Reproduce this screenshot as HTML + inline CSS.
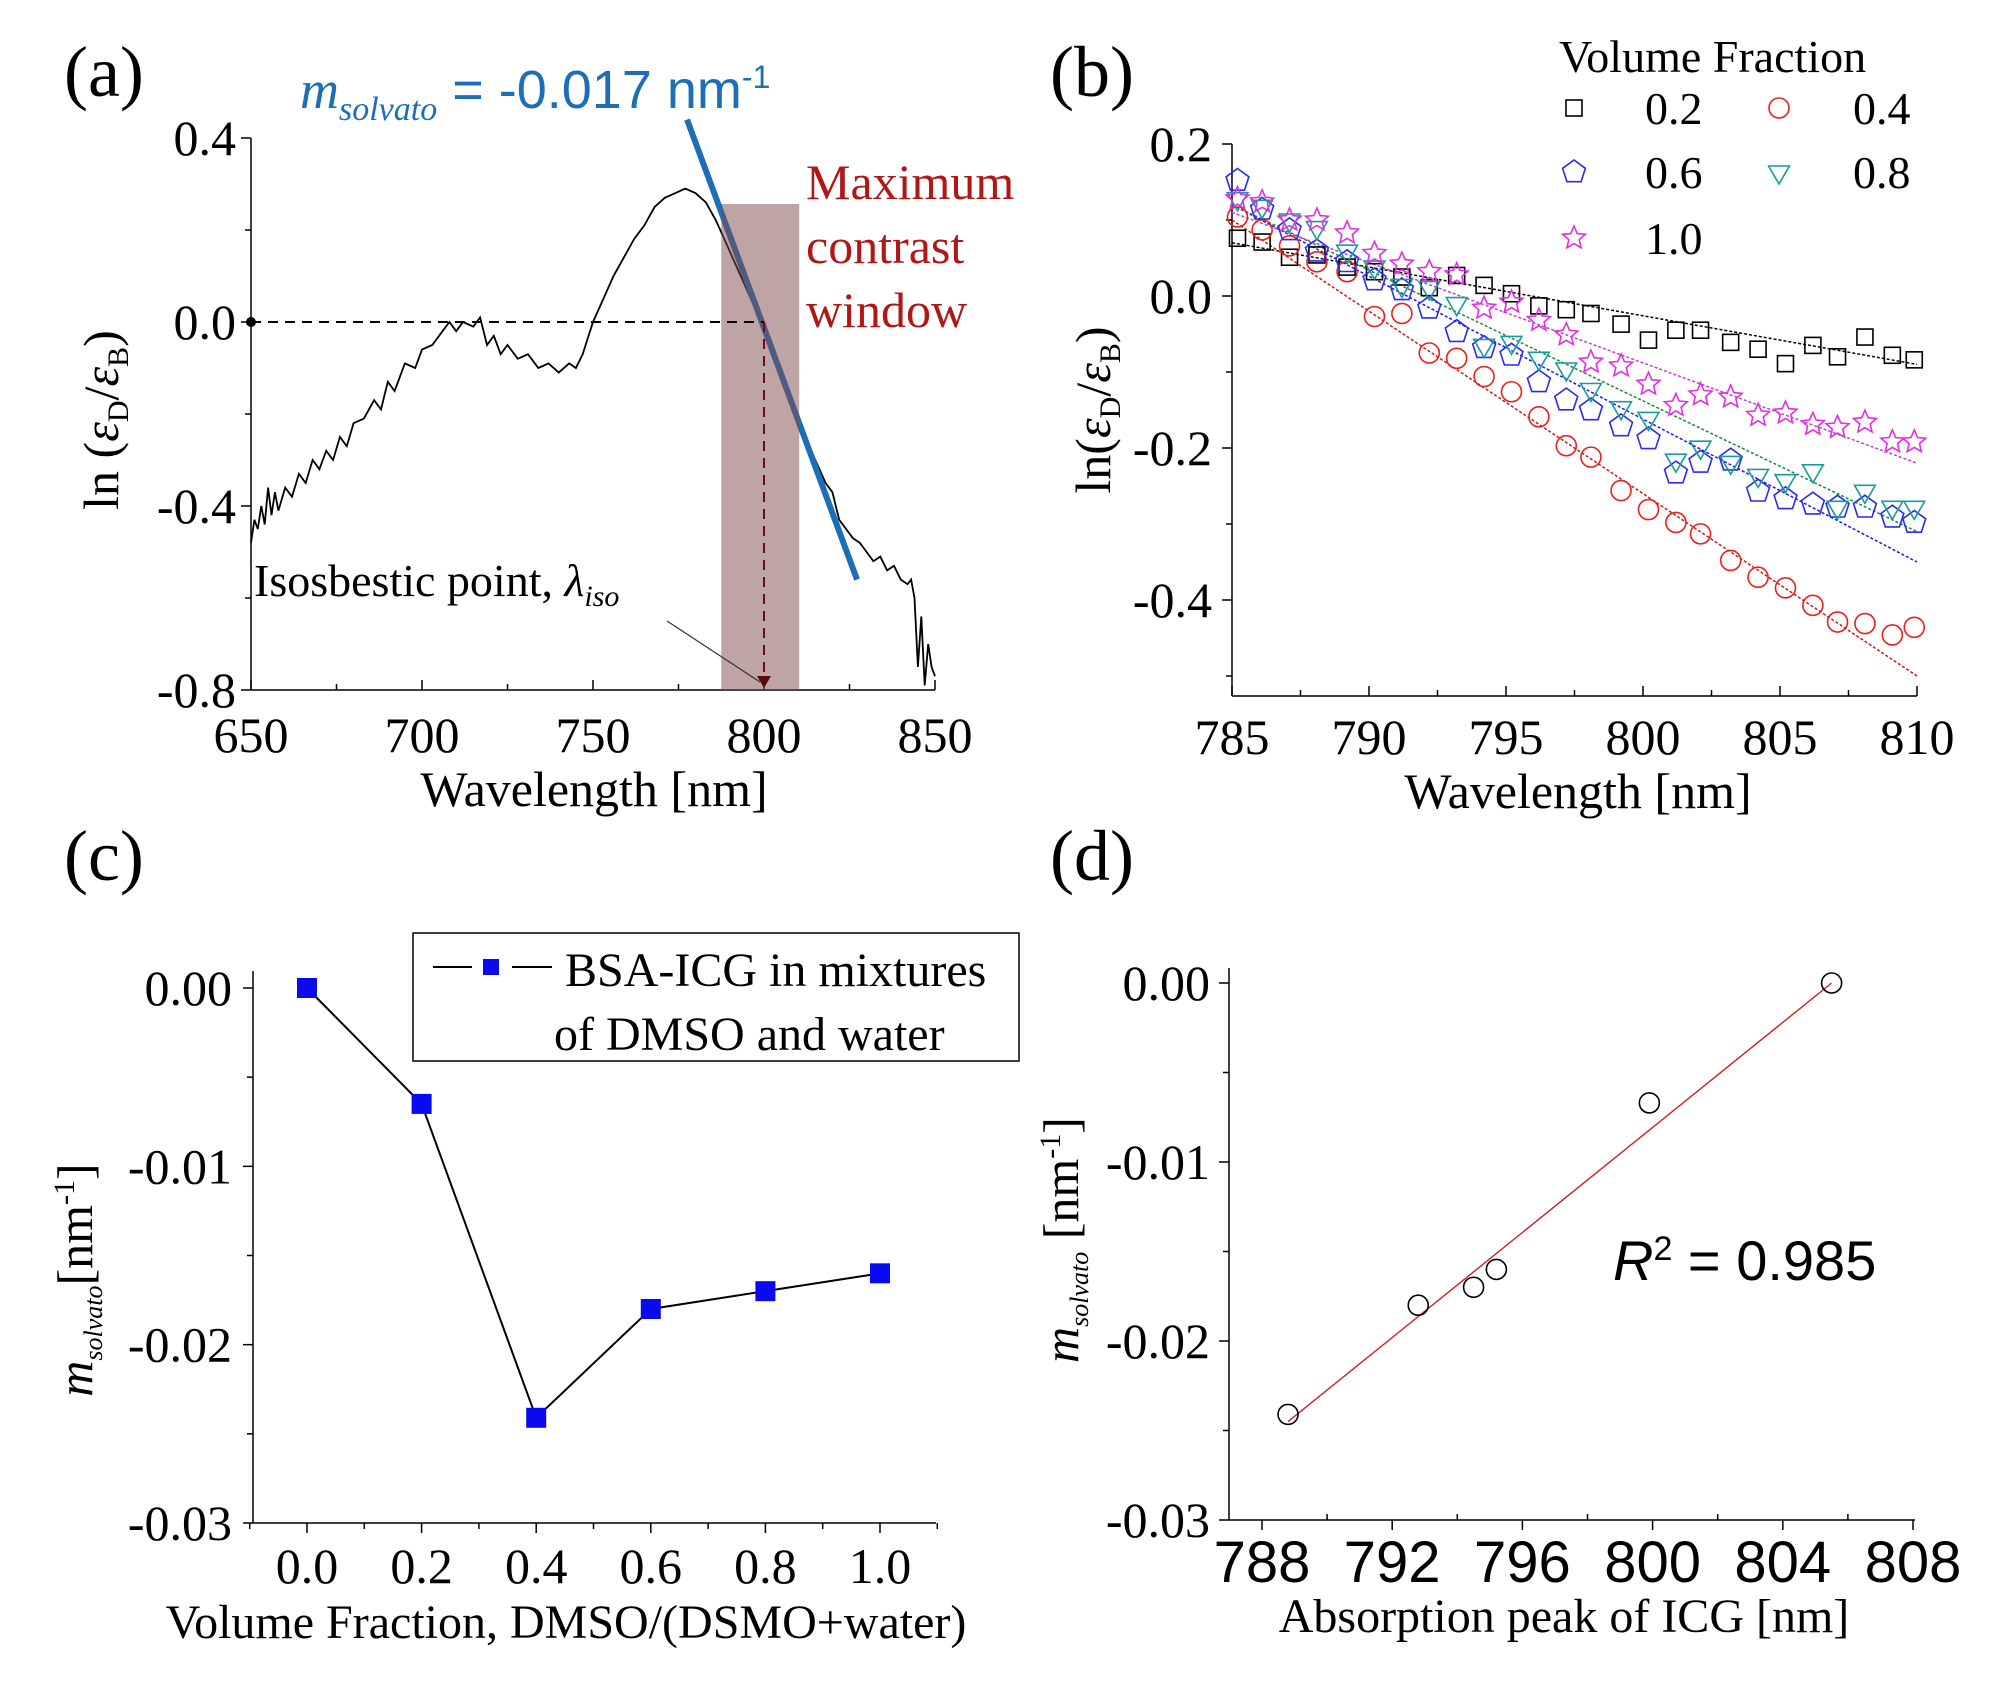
<!DOCTYPE html>
<html><head><meta charset="utf-8"><style>
html,body{margin:0;padding:0;background:#fff;}
svg{display:block;font-family:"Liberation Serif",serif;}
</style></head><body>
<svg id="fig" width="1996" height="1682" viewBox="0 0 1996 1682" xmlns="http://www.w3.org/2000/svg">
<rect width="1996" height="1682" fill="#fff"/>
<text x="64" y="96" font-size="72">(a)</text>
<text x="1050" y="96" font-size="72">(b)</text>
<text x="64" y="880" font-size="72">(c)</text>
<text x="1050" y="880" font-size="72">(d)</text>
<g id="pa"></g>
<g id="pb"></g>
<g id="pc"></g>
<g id="pd"></g>
</svg>
<script>
// ---- Panel (a) data ----
const aWave = [650,651,652,653,654,655,656,657,658,660,662,664,666,668,670,672,674,676,678,680,683,686,688,690,692,695,698,700,703,706,708,710,712,715,717,719,721,723,725,728,731,734,737,740,743,745,747,750,753,756,759,762,765,768,771,774,777,780,783,786,789,792,795,798,800,803,806,809,812,815,818,820,822,824,826,828,830,832,834,836,838,840,842,843,844,845,846,847,848,849,850];
const aLnRatio = [-0.48,-0.43,-0.45,-0.40,-0.44,-0.36,-0.42,-0.37,-0.41,-0.36,-0.38,-0.33,-0.35,-0.30,-0.32,-0.28,-0.30,-0.25,-0.27,-0.22,-0.21,-0.17,-0.19,-0.13,-0.15,-0.09,-0.10,-0.06,-0.05,-0.02,0.0,-0.02,0.0,-0.01,0.01,-0.05,-0.03,-0.07,-0.05,-0.08,-0.07,-0.10,-0.09,-0.11,-0.09,-0.10,-0.07,0.0,0.05,0.10,0.14,0.18,0.21,0.25,0.27,0.28,0.29,0.28,0.26,0.22,0.17,0.12,0.07,0.02,0.0,-0.06,-0.13,-0.19,-0.25,-0.30,-0.35,-0.37,-0.43,-0.45,-0.47,-0.48,-0.50,-0.52,-0.51,-0.54,-0.53,-0.56,-0.57,-0.56,-0.60,-0.75,-0.64,-0.79,-0.70,-0.75,-0.77];
const aXTicks = [650,700,750,800,850];
const aYTicks = [0.4,0.0,-0.4,-0.8];
const aTangent = [[777.5,0.44],[827.2,-0.56]];
const aWindow = [787.5,810.3];
const aIso = 800;

// ---- Panel (b) data ----
const bWave = [785.2,786.1,787.1,788.1,789.2,790.2,791.2,792.2,793.2,794.2,795.2,796.2,797.2,798.1,799.2,800.2,801.2,802.1,803.2,804.2,805.2,806.2,807.1,808.1,809.1,809.9];
const bF02 = [0.076,0.071,0.051,0.054,0.038,0.032,0.025,0.011,0.027,0.014,0.003,-0.013,-0.018,-0.023,-0.037,-0.058,-0.045,-0.045,-0.061,-0.070,-0.089,-0.065,-0.080,-0.054,-0.078,-0.084];
const bF04 = [0.104,0.087,0.066,0.045,0.032,-0.027,-0.023,-0.075,-0.082,-0.106,-0.126,-0.159,-0.197,-0.212,-0.256,-0.281,-0.298,-0.313,-0.348,-0.370,-0.384,-0.407,-0.429,-0.431,-0.446,-0.436];
const bF06 = [0.152,0.114,0.087,0.059,0.045,0.021,0.008,-0.016,-0.047,-0.068,-0.078,-0.113,-0.137,-0.150,-0.171,-0.188,-0.233,-0.219,-0.216,-0.257,-0.267,-0.274,-0.278,-0.278,-0.291,-0.298];
const bF08 = [0.128,0.118,0.100,0.090,0.059,0.038,0.014,0.011,-0.010,-0.065,-0.061,-0.082,-0.096,-0.123,-0.147,-0.161,-0.216,-0.199,-0.219,-0.236,-0.243,-0.230,-0.278,-0.257,-0.278,-0.278];
const bF10 = [0.128,0.124,0.100,0.100,0.083,0.056,0.042,0.032,0.028,-0.016,-0.008,-0.032,-0.051,-0.087,-0.092,-0.116,-0.144,-0.130,-0.133,-0.157,-0.154,-0.169,-0.173,-0.166,-0.192,-0.192];
const bFitStart = [0.07,0.10,0.12,0.12,0.11];
const bFitEnd = [-0.09,-0.50,-0.35,-0.31,-0.22];
const bXTicks = [785,790,795,800,805,810];
const bYTicks = [0.2,0.0,-0.2,-0.4];

// ---- Panel (c) data ----
const cFraction = [0.0,0.2,0.4,0.6,0.8,1.0];
const cSlope = [0.0,-0.0065,-0.0241,-0.0180,-0.0170,-0.0160];
const cXTicks = ["0.0","0.2","0.4","0.6","0.8","1.0"];
const cYTicks = ["0.00","-0.01","-0.02","-0.03"];

// ---- Panel (d) data ----
const dPeak = [788.8,792.8,794.5,795.2,799.9,805.5];
const dSlope = [-0.0241,-0.0180,-0.0170,-0.0160,-0.0067,0.0];
const dFit = [[788.8,-0.0245],[805.5,0.0]];
const dXTicks = [788,792,796,800,804,808];
const dYTicks = ["0.00","-0.01","-0.02","-0.03"];

const NS = "http://www.w3.org/2000/svg";
function mk(parent, tag, attrs, text){
  const e = document.createElementNS(NS, tag);
  for (const k in attrs) e.setAttribute(k, attrs[k]);
  if (text !== undefined) e.textContent = text;
  parent.appendChild(e);
  return e;
}
function lin(d0,d1,p0,p1){ return v => p0 + (v-d0)*(p1-p0)/(d1-d0); }

// ================= Panel A =================
(function(){
  const g = document.getElementById('pa');
  const X = lin(650,850,251,935), Y = lin(0.4,-0.8,138,690);
  let e;
  e = mk(g,'line',{x1:251,y1:138,x2:251,y2:690,stroke:'#000','stroke-width':1.5});
   
  e = mk(g,'line',{x1:251,y1:690,x2:935,y2:690,stroke:'#000','stroke-width':1.5});
   
  for (let v=650; v<=850; v+=25){
    e = mk(g,'line',{x1:X(v),y1:690,x2:X(v),y2:(v%50===0)?680:684,stroke:'#000','stroke-width':1.5});
     
  }
  aXTicks.forEach(v=>{
    e = mk(g,'text',{x:X(v),y:752,'font-size':50,'text-anchor':'middle'},String(v));
     
  });
  for (let v=0.4; v>=-0.81; v-=0.2){
    e = mk(g,'line',{x1:251,y1:Y(v),x2:Math.abs(Math.round(v*10))%4===0?241:245,y2:Y(v),stroke:'#000','stroke-width':1.5});
     
  }
  aYTicks.forEach(v=>{
    e = mk(g,'text',{x:236,y:Y(v)+17,'font-size':50,'text-anchor':'end'},v.toFixed(1));
     
  });
  e = mk(g,'text',{x:594,y:806,'font-size':50,'text-anchor':'middle'},'Wavelength [nm]');
   
  e = mk(g,'text',{transform:'translate(118,420) rotate(-90)','font-size':50,'text-anchor':'middle'});
  e.innerHTML = 'ln (<tspan font-style="italic">ε</tspan><tspan font-size="30" dy="10">D</tspan><tspan dy="-10">/</tspan><tspan font-style="italic">ε</tspan><tspan font-size="30" dy="10">B</tspan><tspan dy="-10">)</tspan>';
   
  // curve
  const pts = aWave.map((w,i)=>X(w).toFixed(1)+','+Y(aLnRatio[i]).toFixed(1)).join(' ');
  e = mk(g,'polyline',{points:pts,fill:'none',stroke:'#000','stroke-width':1.8});
   
  // tangent
  e = mk(g,'line',{x1:X(aTangent[0][0]),y1:Y(aTangent[0][1]),x2:X(aTangent[1][0]),y2:Y(aTangent[1][1]),stroke:'#1c6fb6','stroke-width':6});
   
  // window overlay
  e = mk(g,'rect',{x:X(aWindow[0]),y:204,width:X(aWindow[1])-X(aWindow[0]),height:Y(-0.8)-204,fill:'#7e4a4a','fill-opacity':0.5});
   
  // dashed guides
  e = mk(g,'line',{x1:251,y1:Y(0),x2:X(aIso),y2:Y(0),stroke:'#000','stroke-width':2,'stroke-dasharray':'10,7'});
   
  e = mk(g,'line',{x1:X(aIso),y1:Y(0),x2:X(aIso),y2:Y(-0.8)-8,stroke:'#6b0f0f','stroke-width':2,'stroke-dasharray':'10,7'});
   
  e = mk(g,'circle',{cx:251,cy:Y(0),r:5,fill:'#000'});
   
  e = mk(g,'polygon',{points:`${X(aIso)-7},${Y(-0.8)-14} ${X(aIso)+7},${Y(-0.8)-14} ${X(aIso)},${Y(-0.8)-2}`,fill:'#5a0a0a'});
   
  // annotations
  e = mk(g,'text',{x:300,y:108,'font-size':54,fill:'#1c6fb6','font-family':'Liberation Sans, sans-serif'});
  e.innerHTML = '<tspan font-family="Liberation Serif, serif" font-style="italic">m</tspan><tspan font-size="34" font-style="italic" font-family="Liberation Serif, serif" dy="12">solvato</tspan><tspan dy="-12"> = -0.017 nm</tspan><tspan font-size="32" dy="-20">-1</tspan>';
   
  ['Maximum','contrast','window'].forEach((t,i)=>{
    e = mk(g,'text',{x:806,y:199+i*64,'font-size':50,fill:'#b01818'},t);
     
  });
  e = mk(g,'text',{x:254,y:596,'font-size':46});
  e.innerHTML = 'Isosbestic  point, <tspan font-style="italic">λ</tspan><tspan font-size="30" font-style="italic" dy="10">iso</tspan>';
   
  e = mk(g,'line',{x1:667,y1:621,x2:X(aIso)-4,y2:Y(-0.8)-8,stroke:'#333','stroke-width':1.2});
   
})();

// ================= Panel B =================
(function(){
  const g = document.getElementById('pb');
  const X = lin(785,810,1232,1917), Y = lin(0.2,-0.4,144,600);
  let e;
  e = mk(g,'line',{x1:1232,y1:144,x2:1232,y2:696,stroke:'#000','stroke-width':1.5});
   
  e = mk(g,'line',{x1:1232,y1:696,x2:1917,y2:696,stroke:'#000','stroke-width':1.5});
   
  for (let v=785; v<=810; v+=2.5){
    e = mk(g,'line',{x1:X(v),y1:696,x2:X(v),y2:(v%5===0)?686:690,stroke:'#000','stroke-width':1.5});
     
  }
  bXTicks.forEach(v=>{
    e = mk(g,'text',{x:X(v),y:754,'font-size':50,'text-anchor':'middle'},String(v));
     
  });
  for (let k=2; k>=-5; k--){
    const v=k/10;
    e = mk(g,'line',{x1:1232,y1:Y(v),x2:(k%2===0)?1222:1226,y2:Y(v),stroke:'#000','stroke-width':1.5});
     
  }
  bYTicks.forEach(v=>{
    e = mk(g,'text',{x:1212,y:Y(v)+17,'font-size':50,'text-anchor':'end'},v.toFixed(1));
     
  });
  e = mk(g,'text',{x:1578,y:808,'font-size':50,'text-anchor':'middle'},'Wavelength [nm]');
   
  e = mk(g,'text',{transform:'translate(1110,410) rotate(-90)','font-size':50,'text-anchor':'middle'});
  e.innerHTML = 'ln(<tspan font-style="italic">ε</tspan><tspan font-size="30" dy="10">D</tspan><tspan dy="-10">/</tspan><tspan font-style="italic">ε</tspan><tspan font-size="30" dy="10">B</tspan><tspan dy="-10">)</tspan>';
   

  const series = [bF02,bF04,bF06,bF08,bF10];
  const colors = ['#000','#e8201c','#2a2af0','#1a9a9a','#e030e0'];
  const fitCol = ['#000','#d01818','#1a1af0','#1a8a3a','#c040d0'];
  const shapes = ['square','circle','pentagon','triangle','star'];
  const labels = ['0.2','0.4','0.6','0.8','1.0'];
  function marker(parent, shape, cx, cy, col){
    let m;
    if (shape==='square') m = mk(parent,'rect',{x:cx-8,y:cy-8,width:16,height:16,fill:'none',stroke:col,'stroke-width':1.6});
    else if (shape==='circle') m = mk(parent,'circle',{cx:cx,cy:cy,r:10,fill:'none',stroke:col,'stroke-width':1.6});
    else {
      let n = shape==='pentagon'?5:(shape==='triangle'?3:10), pts=[];
      for (let i=0;i<n;i++){
        let a = (shape==='triangle'? Math.PI/2 : -Math.PI/2) + i*2*Math.PI/n;
        let r = shape==='star' ? (i%2===0?12:5.5) : 12;
        pts.push((cx+r*Math.cos(a)).toFixed(1)+','+(cy+r*Math.sin(a)).toFixed(1));
      }
      m = mk(parent,'polygon',{points:pts.join(' '),fill:'none',stroke:col,'stroke-width':1.6});
    }
    return m;
  }
  series.forEach((s,si)=>{
    let e2 = mk(g,'line',{x1:X(785),y1:Y(bFitStart[si]),x2:X(810),y2:Y(bFitEnd[si]),stroke:fitCol[si],'stroke-width':1.5,'stroke-dasharray':'3,2'});
    
    
  });
  series.forEach((s,si)=>{
    s.forEach((v,i)=>{
      const m = marker(g, shapes[si], X(bWave[i]), Y(v), colors[si]);
      
      
    });
  });
  e = mk(g,'text',{x:1559,y:72,'font-size':46},'Volume Fraction');
   
  const lx=[1574,1779,1574,1779,1574], ly=[108,108,172,172,238], tx=[1645,1853,1645,1853,1645];
  series.forEach((s,si)=>{
    const m = marker(g, shapes[si], lx[si], ly[si], colors[si]);
    
    
    const t = mk(g,'text',{x:tx[si],y:ly[si]+16,'font-size':46},labels[si]);
    
    
  });
})();

// ================= Panel C =================
(function(){
  const g = document.getElementById('pc');
  const X = lin(0,1,307,880), Y = lin(0,-0.03,988,1523);
  let e;
  e = mk(g,'line',{x1:253,y1:971,x2:253,y2:1523,stroke:'#000','stroke-width':1.5});
   
  e = mk(g,'line',{x1:253,y1:1523,x2:936,y2:1523,stroke:'#000','stroke-width':1.5});
   
  for (let k=-1;k<=11;k++){
    const v=k/10;
    e = mk(g,'line',{x1:X(v),y1:1523,x2:X(v),y2:(k%2===0)?1533:1529,stroke:'#000','stroke-width':1.5});
     
  }
  cXTicks.forEach(t=>{
    e = mk(g,'text',{x:X(parseFloat(t)),y:1583,'font-size':50,'text-anchor':'middle'},t);
     
  });
  for (let k=0;k<=6;k++){
    const v=-k*0.005;
    e = mk(g,'line',{x1:253,y1:Y(v),x2:(k%2===0)?243:247,y2:Y(v),stroke:'#000','stroke-width':1.5});
     
  }
  cYTicks.forEach(t=>{
    e = mk(g,'text',{x:232,y:Y(parseFloat(t))+17,'font-size':50,'text-anchor':'end'},t);
     
  });
  e = mk(g,'text',{x:566,y:1638,'font-size':48,'text-anchor':'middle'},'Volume Fraction, DMSO/(DSMO+water)');
   
  e = mk(g,'text',{transform:'translate(92,1280) rotate(-90)','font-size':50,'text-anchor':'middle'});
  e.innerHTML = '<tspan font-style="italic">m</tspan><tspan font-size="26" font-style="italic" dy="10">solvato</tspan><tspan dy="-10">[nm</tspan><tspan font-size="30" dy="-18">-1</tspan><tspan dy="18">]</tspan>';
   
  const pts = cFraction.map((f,i)=>X(f)+','+Y(cSlope[i])).join(' ');
  e = mk(g,'polyline',{points:pts,fill:'none',stroke:'#000','stroke-width':2});
   
  cFraction.forEach((f,i)=>{
    const m = mk(g,'rect',{x:X(f)-10,y:Y(cSlope[i])-10,width:20,height:20,fill:'#0a0af0'});
    
    
  });
  e = mk(g,'rect',{x:413,y:933,width:606,height:128,fill:'#fff',stroke:'#000','stroke-width':1.5});
   
  e = mk(g,'line',{x1:433,y1:967,x2:472,y2:967,stroke:'#000','stroke-width':2});
   
  e = mk(g,'line',{x1:512,y1:967,x2:552,y2:967,stroke:'#000','stroke-width':2});
   
  e = mk(g,'rect',{x:483,y:959,width:16,height:16,fill:'#0a0af0'});
   
  e = mk(g,'text',{x:565,y:986,'font-size':48},'BSA-ICG in mixtures');
   
  e = mk(g,'text',{x:554,y:1050,'font-size':48},'of DMSO and water');
   
})();

// ================= Panel D =================
(function(){
  const g = document.getElementById('pd');
  const X = lin(788,808,1262,1913), Y = lin(0,-0.03,983,1520);
  let e;
  e = mk(g,'line',{x1:1229,y1:968,x2:1229,y2:1520,stroke:'#000','stroke-width':1.5});
   
  e = mk(g,'line',{x1:1229,y1:1520,x2:1915,y2:1520,stroke:'#000','stroke-width':1.5});
   
  for (let v=788; v<=808; v+=2){
    e = mk(g,'line',{x1:X(v),y1:1520,x2:X(v),y2:(v%4===0)?1530:1514,stroke:'#000','stroke-width':1.5});
     
  }
  dXTicks.forEach(v=>{
    e = mk(g,'text',{x:X(v),y:1582,'font-size':58,'text-anchor':'middle','font-family':'Liberation Sans, sans-serif'},String(v));
     
  });
  for (let k=0;k<=6;k++){
    const v=-k*0.005;
    e = mk(g,'line',{x1:1229,y1:Y(v),x2:(k%2===0)?1219:1223,y2:Y(v),stroke:'#000','stroke-width':1.5});
     
  }
  dYTicks.forEach(t=>{
    e = mk(g,'text',{x:1210,y:Y(parseFloat(t))+17,'font-size':50,'text-anchor':'end'},t);
     
  });
  e = mk(g,'text',{x:1564,y:1632,'font-size':48,'text-anchor':'middle'},'Absorption peak of ICG [nm]');
   
  e = mk(g,'text',{transform:'translate(1078,1240) rotate(-90)','font-size':50,'text-anchor':'middle'});
  e.innerHTML = '<tspan font-style="italic">m</tspan><tspan font-size="26" font-style="italic" dy="10">solvato</tspan><tspan dy="-10"> [nm</tspan><tspan font-size="30" dy="-18">-1</tspan><tspan dy="18">]</tspan>';
   
  e = mk(g,'line',{x1:X(dFit[0][0]),y1:Y(dFit[0][1]),x2:X(dFit[1][0]),y2:Y(dFit[1][1]),stroke:'#d02020','stroke-width':1.4});
   
  dPeak.forEach((p,i)=>{
    const m = mk(g,'circle',{cx:X(p),cy:Y(dSlope[i]),r:10,fill:'none',stroke:'#000','stroke-width':1.6});
    
    
  });
  e = mk(g,'text',{x:1613,y:1280,'font-size':56,'font-family':'Liberation Sans, sans-serif'});
  e.innerHTML = '<tspan font-style="italic">R</tspan><tspan font-size="34" dy="-20">2</tspan><tspan dy="20"> = 0.985</tspan>';
   
})();
</script>
</body></html>
